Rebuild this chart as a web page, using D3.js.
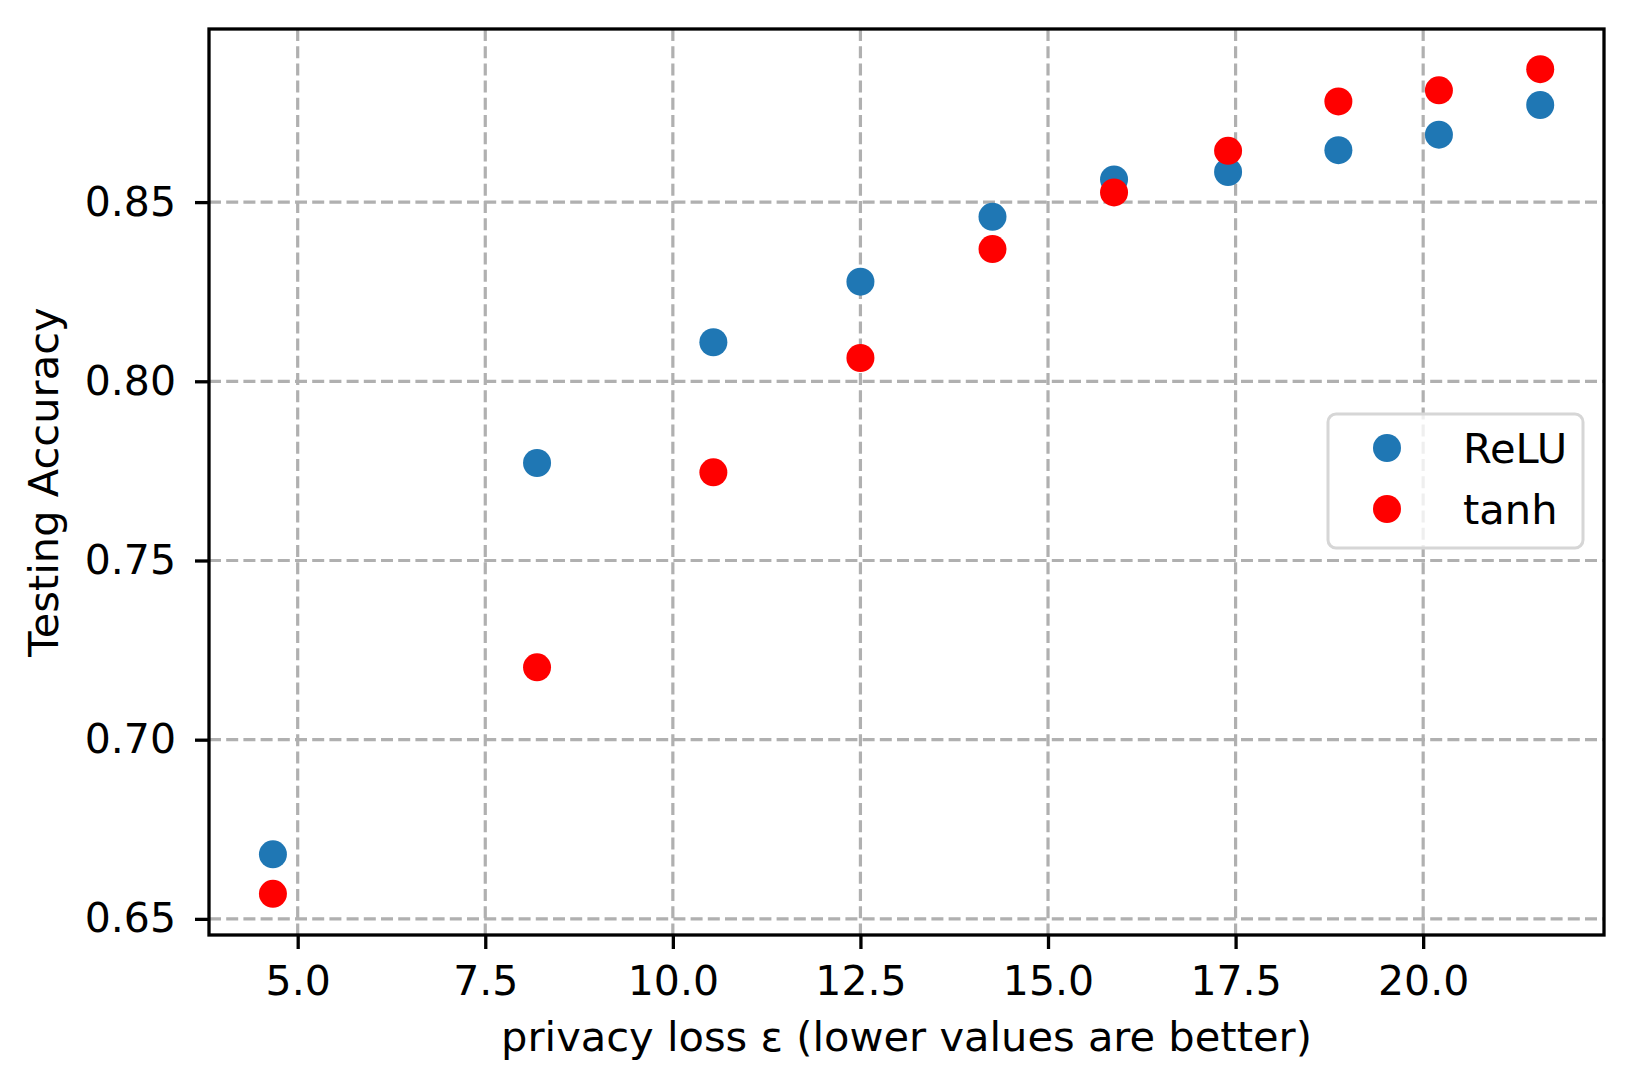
<!DOCTYPE html>
<html>
<head>
<meta charset="utf-8">
<script src="https://cdn.jsdelivr.net/npm/d3@7"></script>
<style>
  body { margin: 0; background: #fff; }
  text { font-family: "DejaVu Sans", sans-serif; fill: #000; }
</style>
</head>
<body>
<svg id="chart" width="1633" height="1091"></svg>
<script>
// privacy loss (x) for each run
var epsilon = [4.67, 8.19, 10.54, 12.50, 14.26, 15.88, 17.40, 18.87, 20.21, 21.56];
// testing accuracy per activation
var relu = [0.668, 0.7772, 0.8109, 0.8278, 0.8459, 0.8563, 0.8584, 0.8645, 0.8688, 0.8771];
var tanh = [0.657, 0.7202, 0.7746, 0.8065, 0.8369, 0.8527, 0.8643, 0.8781, 0.8812, 0.8871];
var seriesNames = ["ReLU", "tanh"];
var seriesColors = ["#1f77b4", "#ff0000"];
var xTicks = [5.0, 7.5, 10.0, 12.5, 15.0, 17.5, 20.0];
var yTicks = [0.65, 0.70, 0.75, 0.80, 0.85];

var svg = d3.select("#chart");
var pLeft = 209, pRight = 1604, pTop = 29, pBottom = 935;

var x = d3.scaleLinear().domain([3.818, 22.41]).range([pLeft, pRight]);
var y = d3.scaleLinear().domain([0.6455, 0.8983]).range([pBottom, pTop]);

svg.append("rect").attr("width", 1633).attr("height", 1091).attr("fill", "#fff");

// grid
var grid = svg.append("g")
  .attr("stroke", "#b0b0b0")
  .attr("stroke-width", 3.2)
  .attr("stroke-dasharray", "12,5.2");
grid.selectAll(".gx").data(xTicks).enter().append("line")
  .attr("x1", function(d) { return x(d); }).attr("x2", function(d) { return x(d); })
  .attr("y1", pTop).attr("y2", pBottom);
grid.selectAll(".gy").data(yTicks).enter().append("line")
  .attr("y1", function(d) { return y(d); }).attr("y2", function(d) { return y(d); })
  .attr("x1", pLeft).attr("x2", pRight);

// points
var data = [relu, tanh];
data.forEach(function(vals, i) {
  svg.append("g").selectAll("circle").data(vals).enter().append("circle")
    .attr("cx", function(d, j) { return x(epsilon[j]); })
    .attr("cy", function(d) { return y(d); })
    .attr("r", 14)
    .attr("fill", seriesColors[i]);
});

// axes
var xAxis = svg.append("g")
  .attr("transform", "translate(0," + pBottom + ")")
  .call(d3.axisBottom(x).tickValues(xTicks).tickFormat(d3.format(".1f")).tickSize(14).tickSizeOuter(0).tickPadding(17));
var yAxis = svg.append("g")
  .attr("transform", "translate(" + pLeft + ",0)")
  .call(d3.axisLeft(y).tickValues(yTicks).tickFormat(d3.format(".2f")).tickSize(14).tickSizeOuter(0).tickPadding(19));
[xAxis, yAxis].forEach(function(a) {
  a.select(".domain").remove();
  a.selectAll(".tick line").attr("stroke", "#000").attr("stroke-width", 3.3);
  a.selectAll(".tick text").style("font-size", "41px").style("font-family", "DejaVu Sans");
});

// frame
svg.append("rect")
  .attr("x", pLeft).attr("y", pTop)
  .attr("width", pRight - pLeft).attr("height", pBottom - pTop)
  .attr("fill", "none").attr("stroke", "#000").attr("stroke-width", 3.3);

// labels
svg.append("text")
  .attr("x", (pLeft + pRight) / 2).attr("y", 1051)
  .attr("text-anchor", "middle")
  .style("font-size", "41.6px")
  .text("privacy loss \u03b5 (lower values are better)");
svg.append("text")
  .attr("transform", "translate(58," + (pTop + pBottom) / 2 + ") rotate(-90)")
  .attr("text-anchor", "middle")
  .style("font-size", "41.6px")
  .text("Testing Accuracy");

// legend
var lg = svg.append("g");
lg.append("rect")
  .attr("x", 1328).attr("y", 414).attr("width", 255).attr("height", 134)
  .attr("rx", 8).attr("ry", 8)
  .attr("fill", "#fff").attr("fill-opacity", 0.8)
  .attr("stroke", "#d6d6d6").attr("stroke-width", 3);
seriesNames.forEach(function(name, i) {
  var cy = 448 + i * 61;
  lg.append("circle").attr("cx", 1387).attr("cy", cy).attr("r", 14).attr("fill", seriesColors[i]);
  lg.append("text").attr("x", 1463).attr("y", cy + 15).style("font-size", "41.6px").text(name);
});
</script>
</body>
</html>
